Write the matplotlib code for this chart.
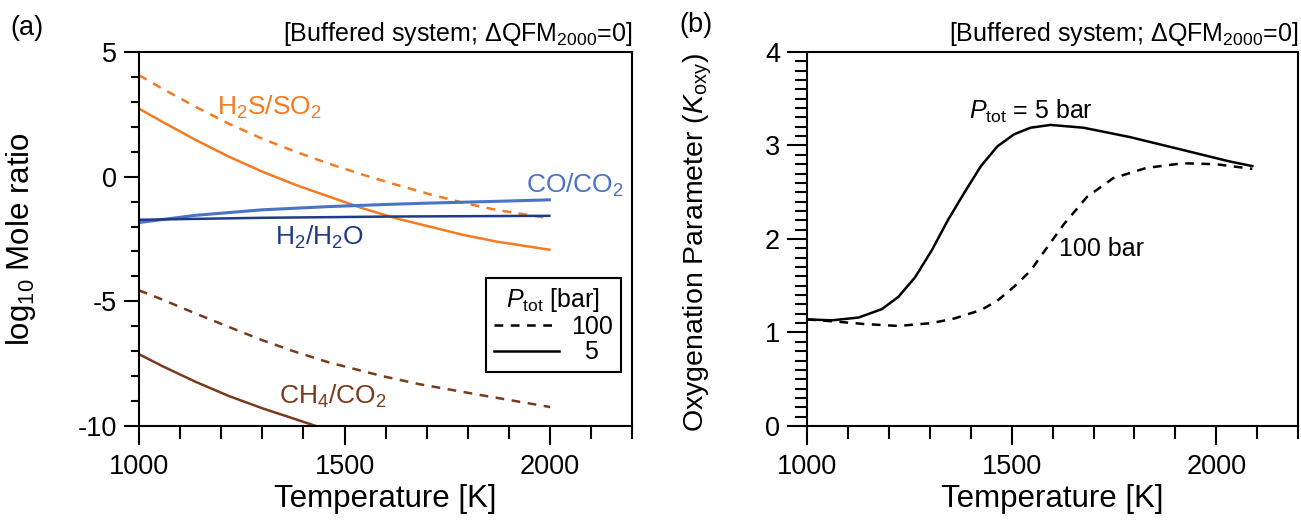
import matplotlib
matplotlib.use("Agg")
import matplotlib.pyplot as plt
from matplotlib.lines import Line2D
from matplotlib.ticker import MultipleLocator

plt.rcParams["font.family"] = ["Liberation Sans", "DejaVu Sans"]
plt.rcParams["mathtext.fontset"] = "custom"
plt.rcParams["mathtext.rm"] = "Liberation Sans"
plt.rcParams["mathtext.it"] = "Liberation Sans:italic"
plt.rcParams["axes.unicode_minus"] = False

# ---- panel (a): log10 mole ratios ----
T_h2s_100 = [1000, 1057, 1138, 1219, 1300, 1381, 1462, 1544, 1625, 1706, 1787, 1868, 1998]
h2s_100 = [4.07, 3.53, 2.80, 2.12, 1.52, 1.00, 0.52, 0.08, -0.32, -0.70, -1.04, -1.33, -1.67]
T_h2s_5 = [1000, 1057, 1138, 1219, 1300, 1381, 1462, 1544, 1625, 1706, 1787, 1868, 1998]
h2s_5 = [2.73, 2.20, 1.47, 0.80, 0.20, -0.33, -0.80, -1.27, -1.67, -2.00, -2.33, -2.60, -2.93]

T_co = [1000, 1138, 1300, 1462, 1609, 1706, 1868, 1998]
co_5 = [-1.84, -1.55, -1.33, -1.20, -1.11, -1.06, -0.99, -0.93]
T_h2 = [1000, 1300, 1609, 1998]
h2_5 = [-1.73, -1.65, -1.60, -1.57]

T_ch4_100 = [1000, 1057, 1138, 1219, 1300, 1381, 1462, 1592, 1684, 1838, 2000]
ch4_100 = [-4.56, -4.93, -5.49, -6.03, -6.56, -7.03, -7.45, -8.00, -8.33, -8.78, -9.24]
T_ch4_5 = [1000, 1057, 1138, 1219, 1300, 1381, 1430, 1462]
ch4_5 = [-7.12, -7.60, -8.23, -8.80, -9.29, -9.73, -10.00, -10.10]

# ---- panel (b): oxygenation parameter ----
T_k5 = [1000, 1061, 1126, 1183, 1223, 1264, 1305, 1344, 1385, 1425, 1465,
        1506, 1546, 1595, 1676, 1789, 1911, 2032, 2088]
k5 = [1.14, 1.13, 1.16, 1.25, 1.38, 1.59, 1.88, 2.20, 2.50, 2.78, 2.99,
      3.12, 3.19, 3.22, 3.19, 3.09, 2.96, 2.83, 2.78]
T_k100 = [1000, 1061, 1142, 1223, 1304, 1360, 1425, 1465, 1506, 1546, 1590,
          1628, 1684, 1748, 1829, 1918, 1999, 2088]
k100 = [1.14, 1.12, 1.09, 1.07, 1.10, 1.15, 1.24, 1.34, 1.49, 1.66, 1.93,
        2.16, 2.45, 2.65, 2.76, 2.81, 2.80, 2.75]

ORANGE = "#f47b20"
LBLUE = "#4a73c6"
NAVY = "#1f3a88"
BROWN = "#7a3a1c"
DASH = (0, (3.5, 3))
TITLE = r"[Buffered system; $\Delta$QFM$_{2000}$=0]"

fig = plt.figure(figsize=(13.01, 5.2), dpi=100)
ax1 = fig.add_axes([0.1068, 0.1808, 0.3793, 0.7192])
ax2 = fig.add_axes([0.6203, 0.1808, 0.3775, 0.7192])

for ax in (ax1, ax2):
    for s in ax.spines.values():
        s.set_linewidth(1.5)
    ax.set_xlim(1000, 2200)
    ax.xaxis.set_major_locator(MultipleLocator(500))
    ax.xaxis.set_minor_locator(MultipleLocator(100))
    ax.tick_params(which="both", direction="out", width=1.5, labelsize=19.5)
    ax.tick_params(axis="x", which="major", length=14, pad=6)
    ax.tick_params(axis="x", which="minor", length=9)
    ax.set_xlabel("Temperature [K]", fontsize=22.5, labelpad=3)
    ax.set_title(TITLE, loc="right", fontsize=18, pad=8)

# panel (a)
ax1.plot(T_h2s_100, h2s_100, color=ORANGE, lw=1.8, ls=DASH)
ax1.plot(T_h2s_5, h2s_5, color=ORANGE, lw=1.8)
ax1.plot(T_co, co_5, color=LBLUE, lw=2.2)
ax1.plot(T_h2, h2_5, color=NAVY, lw=1.8)
ax1.plot(T_ch4_100, ch4_100, color=BROWN, lw=1.8, ls=DASH)
ax1.plot(T_ch4_5, ch4_5, color=BROWN, lw=1.8)
ax1.set_ylim(-10, 5)
ax1.yaxis.set_major_locator(MultipleLocator(5))
ax1.yaxis.set_minor_locator(MultipleLocator(1))
ax1.tick_params(axis="y", which="major", length=11, pad=5)
ax1.tick_params(axis="y", which="minor", length=6)
ax1.set_ylabel(r"log$_{10}$ Mole ratio", fontsize=22.5)
ax1.yaxis.set_label_coords(-0.205, 0.5)

ax1.text(1191, 2.47, r"H$_2$S/SO$_2$", color=ORANGE, fontsize=19)
ax1.text(1942, -0.64, r"CO/CO$_2$", color=LBLUE, fontsize=19)
ax1.text(1330, -2.73, r"H$_2$/H$_2$O", color=NAVY, fontsize=19)
ax1.text(1341, -9.1, r"CH$_4$/CO$_2$", color=BROWN, fontsize=19)

handles = [Line2D([], [], color="black", lw=1.8, ls=DASH),
           Line2D([], [], color="black", lw=1.8)]
leg = ax1.legend(handles, ["100", "  5"], title=r"$P_{\rm tot}$ [bar]",
                 loc="lower right", bbox_to_anchor=(0.976, 0.145),
                 borderaxespad=0, fontsize=18, title_fontsize=18,
                 handlelength=2.6, handletextpad=0.5, labelspacing=0.05,
                 borderpad=0.3, fancybox=False, framealpha=1)
leg.get_frame().set_edgecolor("black")
leg.get_frame().set_linewidth(1.5)

# panel (b)
ax2.plot(T_k5, k5, color="black", lw=1.8)
ax2.plot(T_k100, k100, color="black", lw=1.8, ls=DASH)
ax2.set_ylim(0, 4)
ax2.yaxis.set_major_locator(MultipleLocator(1))
ax2.yaxis.set_minor_locator(MultipleLocator(0.1))
ax2.tick_params(axis="y", which="major", length=14.5, pad=5)
ax2.tick_params(axis="y", which="minor", length=8.5)
ax2.set_ylabel(r"Oxygenation Parameter ($K_{\rm oxy}$)", fontsize=20.5)
ax2.yaxis.set_label_coords(-0.19, 0.49)
ax2.text(1396, 3.29, r"$P_{\rm tot}$ = 5 bar", fontsize=18)
ax2.text(1615, 1.82, "100 bar", fontsize=18)

fig.text(0.008, 0.947, "(a)", fontsize=19.5, va="center")
fig.text(0.522, 0.952, "(b)", fontsize=19.5, va="center")

fig.savefig("out.png", dpi=100)
